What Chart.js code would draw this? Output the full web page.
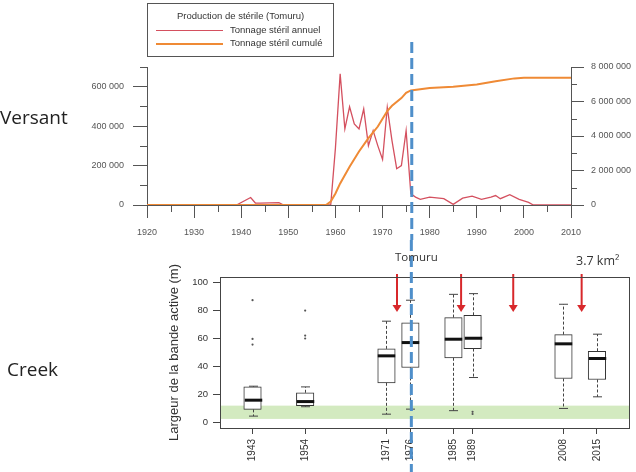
<!DOCTYPE html>
<html>
<head>
<meta charset="utf-8">
<script src="https://cdn.jsdelivr.net/npm/chart.js@4.4.0/dist/chart.umd.min.js"></script>
<style>
  body { margin: 0; background: #fff; }
  #page { position: relative; width: 636px; height: 472px; overflow: hidden; font-family: "Liberation Sans", Arial, sans-serif; }
  canvas { position: absolute; left: 0; }
  .big { position: absolute; font-family: "Open Sans", sans-serif; color: #222; }
  #legend { position: absolute; left: 147px; top: 3px; width: 185px; height: 52px; border: 1px solid #555; font-size: 9.5px; color: #333; }
  #legend .t { position: absolute; white-space: nowrap; }
  #legend .ln { position: absolute; left: 8px; width: 67px; }
</style>
</head>
<body>
<div id="page">
  <canvas id="top" width="636" height="240" style="top:0"></canvas>
  <canvas id="bottom" width="636" height="232" style="top:240px"></canvas>

  <div id="legend">
    <div class="t" style="left:0;width:185px;text-align:center;top:6px">Production de stérile (Tomuru)</div>
    <div class="ln" style="top:26px;border-top:1px solid #d4505f"></div>
    <div class="t" style="left:82px;top:20px">Tonnage stéril annuel</div>
    <div class="ln" style="top:39px;border-top:2px solid #ef8a35"></div>
    <div class="t" style="left:82px;top:33px">Tonnage stéril cumulé</div>
  </div>

  <div class="big" style="left:0;top:104px;font-size:19px">Versant</div>
  <div class="big" style="left:7px;top:356px;font-size:19px">Creek</div>
  <div class="big" style="left:395px;top:249px;font-size:11.5px;color:#333">Tomuru</div>
  <div class="big" style="left:576px;top:252px;font-size:12.5px;color:#333">3.7 km²</div>
</div>

<script>
// ---- top chart: waste rock production (Tomuru)
const annualYears = [1920, 1939, 1942, 1943, 1944, 1948, 1949, 1959, 1960, 1961, 1962, 1963, 1964, 1965, 1966, 1967, 1968, 1969, 1970, 1971, 1972, 1973, 1974, 1975, 1976, 1977, 1978, 1980, 1983, 1985, 1987, 1989, 1991, 1993, 1994, 1995, 1997, 1999, 2001, 2002, 2010];
const annualTonnage = [0, 0, 38000, 10000, 10000, 12000, 0, 0, 290000, 665000, 386000, 498000, 411000, 386000, 487000, 301000, 377000, 300000, 231000, 495000, 327000, 184000, 200000, 377000, 57000, 40000, 29000, 40000, 32000, 3000, 35000, 45000, 29000, 40000, 48000, 32000, 52000, 29000, 13000, 0, 0];

const cumulYears = [1920, 1958, 1959, 1960, 1961, 1963, 1965, 1967, 1969, 1970, 1971, 1972, 1974, 1975, 1976, 1980, 1985, 1990, 1994, 1998, 2000, 2010];
const cumulTonnage = [0, 0, 200000, 670000, 1250000, 2220000, 3100000, 3880000, 4550000, 5000000, 5450000, 5750000, 6200000, 6500000, 6640000, 6780000, 6860000, 6990000, 7180000, 7340000, 7380000, 7380000];

const leftTicks = [0, 200000, 400000, 600000];
const leftMinor = [100000, 300000, 500000, 700000];
const rightMinor = [1000000, 3000000, 5000000, 7000000];
const yearMinor = [1925, 1935, 1945, 1955, 1965, 1975, 1985, 1995, 2005];

const tomuruYear = 1976.2;

// ---- bottom chart: active channel width boxplots
const boxYears = [1943, 1954, 1971, 1976, 1985, 1989, 2008, 2015];
const whiskerLow = [4.5, 11.2, 5.9, 9.5, 8.4, 32.1, 10, 18.3];
const q1 = [9.3, 11.9, 28.3, 39.3, 46.2, 52.8, 31.4, 30.7];
const median = [15.9, 14.9, 47.6, 57.1, 59.5, 60.2, 56.2, 45.7];
const q3 = [25.4, 21.2, 52.6, 71.2, 75, 76.6, 62.8, 50.9];
const whiskerHigh = [25.9, 25.4, 72.4, 87.4, 91.6, 92.1, 84.5, 63.1];
const outlierYears = [1943, 1943, 1943, 1954, 1954, 1954, 1989, 1989];
const outlierValues = [87.4, 59.7, 55.7, 80, 62.1, 60, 7.6, 6];
const widthTicks = [0, 20, 40, 60, 80, 100];
const greenBand = [2.5, 12];
const arrowYears = [1973.2, 1986.6, 1997.5, 2011.8];
const arrowTip = 79;

const spaced = v => String(v).replace(/\B(?=(\d{3})+(?!\d))/g, ' ');

const tomuruLine = {
  id: 'tomuruLine',
  afterDraw(chart, args, opts) {
    const { ctx } = chart;
    const px = chart.scales.x.getPixelForValue(tomuruYear);
    ctx.save();
    ctx.strokeStyle = '#4f8fca';
    ctx.lineWidth = 3;
    ctx.setLineDash([11, 5]);
    ctx.beginPath();
    ctx.moveTo(px, opts.from);
    ctx.lineTo(px, chart.height);
    ctx.stroke();
    ctx.restore();
  }
};

const minorTicks = {
  id: 'minorTicks',
  afterDraw(chart, args, opts) {
    const { ctx } = chart;
    ctx.save();
    ctx.strokeStyle = '#555';
    ctx.lineWidth = 1;
    opts.axes.forEach(a => {
      const s = chart.scales[a.id];
      a.values.forEach(v => {
        const p = Math.round(s.getPixelForValue(v)) + 0.5;
        ctx.beginPath();
        if (s.isHorizontal()) { ctx.moveTo(p, s.top); ctx.lineTo(p, s.top + a.len); }
        else if (s.position === 'left') { ctx.moveTo(s.right, p); ctx.lineTo(s.right - a.len, p); }
        else { ctx.moveTo(s.left, p); ctx.lineTo(s.left + a.len, p); }
        ctx.stroke();
      });
    });
    ctx.restore();
  }
};

const tickFont = { family: 'Liberation Sans', size: 9 };

new Chart(document.getElementById('top'), {
  type: 'line',
  data: {
    datasets: [
      {
        label: 'Tonnage stéril annuel',
        data: annualYears.map((x, i) => ({ x, y: annualTonnage[i] })),
        borderColor: '#d4505f',
        borderWidth: 1.3,
        pointRadius: 0,
        tension: 0,
        yAxisID: 'y',
        order: 2
      },
      {
        label: 'Tonnage stéril cumulé',
        data: cumulYears.map((x, i) => ({ x, y: cumulTonnage[i] })),
        borderColor: '#ef8a35',
        borderWidth: 2,
        pointRadius: 0,
        tension: 0,
        yAxisID: 'y2',
        order: 1
      }
    ]
  },
  options: {
    responsive: false,
    animation: false,
    layout: { padding: { left: 87, right: 0, top: 67, bottom: 0 } },
    plugins: {
      legend: { display: false },
      tooltip: { enabled: false },
      tomuruLine: { from: 42 },
      minorTicks: {
        axes: [
          { id: 'x', values: yearMinor, len: 7 },
          { id: 'y', values: leftMinor, len: 7 },
          { id: 'y2', values: rightMinor, len: 6 }
        ]
      }
    },
    scales: {
      x: {
        type: 'linear', min: 1920, max: 2010,
        ticks: { stepSize: 10, autoSkip: false, maxRotation: 0, padding: 9, color: '#555', font: tickFont, callback: v => String(v) },
        grid: { drawOnChartArea: false, tickLength: 13, color: '#555' },
        border: { color: '#555' },
        afterFit(s) { s.height = 35; }
      },
      y: {
        position: 'left', min: 0, max: 700000,
        afterBuildTicks(s) { s.ticks = leftTicks.map(value => ({ value })); },
        ticks: { padding: 9, color: '#555', font: tickFont, callback: v => spaced(v) },
        grid: { drawOnChartArea: false, tickLength: 14, color: '#555' },
        border: { color: '#555' },
        afterFit(s) { s.width = 60; }
      },
      y2: {
        position: 'right', min: 0, max: 8000000,
        ticks: { stepSize: 2000000, padding: 7, color: '#555', font: tickFont, callback: v => spaced(v) },
        grid: { drawOnChartArea: false, tickLength: 13, color: '#555' },
        border: { color: '#555' },
        afterFit(s) { s.width = 65; }
      }
    }
  },
  plugins: [minorTicks, tomuruLine]
});

const boxDecor = {
  id: 'boxDecor',
  beforeDatasetsDraw(chart) {
    const { ctx, chartArea, scales: { y } } = chart;
    const top = y.getPixelForValue(greenBand[1]);
    const bot = y.getPixelForValue(greenBand[0]);
    ctx.save();
    ctx.fillStyle = '#d3eac0';
    ctx.fillRect(chartArea.left, top, chartArea.right - chartArea.left, bot - top);
    ctx.restore();
  },
  afterDatasetsDraw(chart) {
    const { ctx, chartArea, scales: { x, y } } = chart;
    const cap = 4.5;
    const half = 8.75;
    ctx.save();
    boxYears.forEach((yr, i) => {
      const px = Math.round(x.getPixelForValue(yr)) + 0.5;
      const yHi = y.getPixelForValue(whiskerHigh[i]);
      const yLo = y.getPixelForValue(whiskerLow[i]);
      ctx.strokeStyle = '#444';
      ctx.lineWidth = 1;
      ctx.setLineDash([3, 2]);
      ctx.beginPath();
      ctx.moveTo(px, y.getPixelForValue(q3[i]));
      ctx.lineTo(px, yHi);
      ctx.moveTo(px, y.getPixelForValue(q1[i]));
      ctx.lineTo(px, yLo);
      ctx.stroke();
      ctx.setLineDash([]);
      ctx.beginPath();
      ctx.moveTo(px - cap, yHi); ctx.lineTo(px + cap, yHi);
      ctx.moveTo(px - cap, yLo); ctx.lineTo(px + cap, yLo);
      ctx.stroke();
      const ym = y.getPixelForValue(median[i]);
      ctx.strokeStyle = '#111';
      ctx.lineWidth = 3;
      ctx.beginPath();
      ctx.moveTo(px - half, ym); ctx.lineTo(px + half, ym);
      ctx.stroke();
    });
    // red arrows
    ctx.strokeStyle = '#d8282b';
    ctx.fillStyle = '#d8282b';
    arrowYears.forEach(yr => {
      const px = x.getPixelForValue(yr);
      const tip = y.getPixelForValue(arrowTip);
      ctx.lineWidth = 2;
      ctx.beginPath();
      ctx.moveTo(px, chartArea.top - 3);
      ctx.lineTo(px, tip - 5);
      ctx.stroke();
      ctx.beginPath();
      ctx.moveTo(px - 4.5, tip - 7);
      ctx.lineTo(px + 4.5, tip - 7);
      ctx.lineTo(px, tip);
      ctx.closePath();
      ctx.fill();
    });
    // frame
    ctx.strokeStyle = '#444';
    ctx.lineWidth = 1;
    ctx.strokeRect(Math.round(chartArea.left) + 0.5, Math.round(chartArea.top) + 0.5,
      Math.round(chartArea.right - chartArea.left), Math.round(chartArea.bottom - chartArea.top));
    ctx.restore();
  }
};

new Chart(document.getElementById('bottom'), {
  type: 'bar',
  data: {
    datasets: [
      {
        type: 'bar',
        label: 'Largeur de la bande active',
        data: boxYears.map((x, i) => ({ x, y: [q1[i], q3[i]] })),
        backgroundColor: '#fff',
        borderColor: '#333',
        borderWidth: 1,
        borderSkipped: false,
        barThickness: 17.5
      },
      {
        type: 'scatter',
        label: 'outliers',
        data: outlierYears.map((x, i) => ({ x, y: outlierValues[i] })),
        backgroundColor: '#555',
        borderColor: '#555',
        pointRadius: 1.1,
        pointBorderWidth: 0,
        showLine: false
      }
    ]
  },
  options: {
    responsive: false,
    animation: false,
    layout: { padding: { left: 160, right: 7, top: 37, bottom: 0 } },
    plugins: {
      legend: { display: false },
      tooltip: { enabled: false },
      tomuruLine: { from: 0 }
    },
    scales: {
      x: {
        type: 'linear', min: 1936.2, max: 2021.7, offset: false,
        afterBuildTicks(s) { s.ticks = boxYears.map(value => ({ value })); },
        ticks: { autoSkip: false, minRotation: 90, maxRotation: 90, padding: 5, color: '#333', font: { family: 'Liberation Sans', size: 10 }, callback: v => String(v) },
        grid: { drawOnChartArea: false, offset: false, tickLength: 6, color: '#444' },
        border: { display: false },
        afterFit(s) { s.height = 44; }
      },
      y: {
        min: -4, max: 104,
        afterBuildTicks(s) { s.ticks = widthTicks.map(value => ({ value })); },
        ticks: { padding: 5, color: '#333', font: { family: 'Liberation Sans', size: 9.5 } },
        grid: { drawOnChartArea: false, tickLength: 7, color: '#444' },
        border: { display: false },
        title: { display: true, text: 'Largeur de la bande active (m)', color: '#333', font: { family: 'Liberation Sans', size: 13 }, padding: { top: 7, bottom: 0 } },
        afterFit(s) { s.width = 60; }
      }
    }
  },
  plugins: [boxDecor, tomuruLine]
});
</script>
</body>
</html>
